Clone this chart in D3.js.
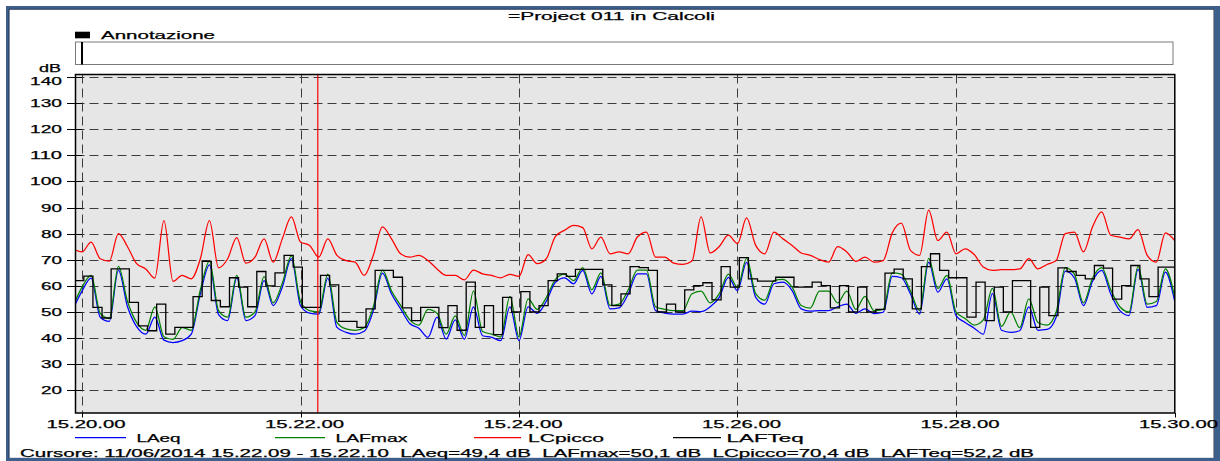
<!DOCTYPE html>
<html><head><meta charset="utf-8">
<script src="https://cdn.jsdelivr.net/npm/d3@7"></script>
<style>
body{margin:0;background:#fff}
svg{display:block}
text{font-family:"Liberation Sans",Arial,sans-serif;font-size:11px;fill:#000;stroke:#000;stroke-width:0.25px;white-space:pre}
</style>
</head><body>
<svg id="c" width="1220" height="461"></svg>
<script>
// ---------- DATA ----------
const title = "=Project 011 in Calcoli";
const annotationLabel = "Annotazione";
const unitLabel = "dB";
const seriesNames = ["LAeq", "LAFmax", "LCpicco", "LAFTeq"];
const seriesColors = ["#0000ff", "#008000", "#ff0000", "#000000"];
const cursorText = "Cursore: 11/06/2014 15.22.09 - 15.22.10  LAeq=49,4 dB  LAFmax=50,1 dB  LCpicco=70,4 dB  LAFTeq=52,2 dB";
const cursorSeconds = 129.5;               // seconds after 15.20.00
const yTicks = [20, 30, 40, 50, 60, 70, 80, 90, 100, 110, 120, 130, 140];
const xTickSeconds = [0, 120, 240, 360, 480, 600];
const xTickLabels = ["15.20.00", "15.22.00", "15.24.00", "15.26.00", "15.28.00", "15.30.00"];

// 1-second series sampled every 5 s, first sample at -5 s (15.19.55)
const sampleStart = -5, sampleStep = 5;
const laeq = [
  51, 58, 63, 48, 46.4, 66, 52, 44.4, 41.5, 48,
  39.2, 38.3, 39, 41.5, 56.9, 68, 49, 46.7, 63.1, 46.7,
  48.6, 62, 52.4, 59.5, 70.4, 52.4, 49.6, 49.2, 63, 44.1,
  42.2, 41.5, 42.6, 50.5, 64.9, 56.9, 51.2, 45.6, 43.8, 40.3,
  48, 39.6, 47, 39.6, 52, 40.9, 40.3, 39, 52, 39,
  52, 49.5, 54.1, 61.4, 63.1, 60.8, 65.9, 56.9, 63.6, 51.2,
  51.6, 56.9, 64.6, 64.6, 50.5, 49.6, 49.2, 49.2, 50.3, 50.1,
  52, 55.6, 63.3, 58.2, 69, 55.6, 53, 60.8, 61.4, 58.2,
  51.2, 50.3, 50.5, 50.5, 52, 53, 49.5, 51.2, 49.4, 49.9,
  63.6, 63.1, 56.9, 49.2, 69.1, 57.6, 62.7, 48.6, 46, 43.8,
  41.5, 57, 43, 42.2, 42.8, 52, 43, 43.3, 48, 65.6,
  63.1, 52.4, 61.8, 65.9, 56.9, 50.5, 48.6, 66.3, 51.8, 52.4,
  65.3, 54.4
];
const lafmax = [
  52, 59.5, 64, 49.5, 47.5, 67.5, 54, 46, 43, 52,
  40.5, 39.5, 44, 43, 58.5, 69.5, 50.5, 48, 64, 48,
  50, 63.5, 53.5, 61, 71.5, 54, 50.5, 50, 64.5, 46,
  43.5, 43, 44, 52, 66, 58, 52.5, 47, 45, 51,
  49.5, 41.5, 48.5, 41, 58, 42.5, 41.5, 40.5, 56, 40.5,
  55, 51, 55.5, 62.5, 64.5, 62, 67, 58.5, 65, 52.5,
  53, 58.5, 66, 66, 52, 51, 50.5, 50.5, 57, 58,
  53.5, 57, 64.5, 59.5, 70.5, 57, 54.5, 62, 62.5, 59.5,
  52.5, 51.5, 58, 58, 53.5, 58, 51, 56, 50.5, 51,
  65, 64.5, 58, 50.5, 70.5, 59, 64, 50, 47.5, 45,
  47, 59, 44.5, 50, 44, 55, 46, 45, 50, 67,
  64.5, 53.5, 63, 67, 58.5, 52, 50, 67.5, 53, 54,
  66.5, 56
];
const lcpicco = [
  74.2, 73, 76.8, 70.4, 69.5, 80, 75, 68.5, 66.5, 63,
  85, 61.7, 64, 62.7, 70.4, 85, 66.9, 70.4, 78.5, 68.7,
  71, 78, 69.1, 78, 86.4, 76.8, 75.5, 71, 78, 71.7,
  69.7, 69.1, 64, 71.7, 82.6, 78, 72.3, 71, 71.7, 69.7,
  66.5, 64, 64, 62.3, 66, 64.6, 64, 63.1, 64.4, 63.6,
  72, 68.5, 70.4, 79, 81.3, 83.2, 82.3, 74.2, 78.7, 72.3,
  73, 72.3, 78.7, 80.6, 71, 71, 68.7, 68.2, 69.5, 86.4,
  72.6, 75.1, 79.4, 76.2, 86, 75.5, 72.3, 80.6, 78, 75.5,
  72.6, 71.7, 70.1, 69.1, 75, 73, 69.4, 71, 69.1, 69.7,
  80.3, 84, 73.6, 71.7, 89, 77.4, 80.6, 72.3, 74.2, 72,
  67.2, 65.9, 66.2, 66.2, 66.5, 70.4, 66.5, 68.2, 69.7, 80,
  80.6, 73, 82.6, 88.3, 79.4, 78.7, 78, 81.5, 71.7, 69.1,
  80.3, 77.4
];
// Takt-max: one value per 5-s period, first period starts at -4 s
const taktStart = -4, taktStep = 5;
const lafteq = [
  62, 63.7, 51.8, 47.7, 66.5, 66.5, 53.7, 44.7, 42.8, 53,
  41.5, 44.1, 44.1, 55.9, 69.4, 54.4, 52, 63.1, 59.5, 52,
  65.5, 60, 65, 71.7, 67.2, 51.8, 51.8, 64, 60.4, 46.4,
  46.4, 44.1, 51.2, 65.9, 65.9, 63.3, 51.6, 46.7, 51.8, 51.8,
  44, 52.4, 43, 61.4, 44.1, 52.4, 41.3, 55.6, 50, 57.8,
  50, 52.4, 62, 64.6, 63.6, 66.3, 66.3, 66.3, 60.4, 52.4,
  56.9, 67.4, 67, 65.9, 50, 53, 50, 58.5, 60.1, 61.2,
  54.6, 67.4, 59.5, 70.8, 62.7, 61.8, 61.8, 63.3, 63.3, 59.5,
  59.5, 61.4, 60.1, 51.6, 60.1, 50, 59.5, 50, 51, 64.9,
  66.4, 62.7, 51.2, 67.4, 72.3, 65.9, 63.1, 63.1, 48, 61.4,
  46.7, 59.5, 50, 62, 62, 44.1, 59.5, 48.6, 66.9, 65.5,
  64, 62.7, 67.8, 66.8, 54.9, 60.1, 67.8, 62.7, 55.9, 67.2,
  67.2
];

// ---------- LAYOUT ----------
const W = 1220, H = 461;
const plot = {left: 75.5, right: 1174.8, top: 74.5, bottom: 413};
const x = d3.scaleLinear().domain([0, 600]).range([82, 1174.5]);
const y = d3.scaleLinear().domain([20, 140]).range([390.3, 77]);

const svg = d3.select("#c");

// window frame
svg.append("rect").attr("x", 6).attr("y", 6).attr("width", W - 6).attr("height", H - 6).attr("fill", "#3e5f8c");
svg.append("rect").attr("x", 9.3).attr("y", 9.3).attr("width", 1204).attr("height", 448.5).attr("fill", "#fff");
svg.append("line").attr("x1", 1213.5).attr("x2", 1213.5).attr("y1", 9).attr("y2", 458).attr("stroke", "#9a9a9a").attr("stroke-width", 1);
svg.append("line").attr("x1", 9).attr("x2", 9).attr("y1", 9).attr("y2", 458).attr("stroke", "#1e2e48").attr("stroke-width", 0.8);
svg.append("line").attr("x1", 9).attr("x2", 1214).attr("y1", 9.3).attr("y2", 9.3).attr("stroke", "#1e2e48").attr("stroke-width", 0.8);

function stretchedText(g, str, xStart, baseline, width) {
  return g.append("text").attr("x", xStart).attr("y", baseline)
    .attr("textLength", width).attr("lengthAdjust", "spacingAndGlyphs").text(str);
}

// title
stretchedText(svg, title, 508, 20, 207);

// annotation legend + box
svg.append("rect").attr("x", 75).attr("y", 31.7).attr("width", 15).attr("height", 6.6).attr("fill", "#000");
stretchedText(svg, annotationLabel, 101, 38.8, 114);
svg.append("rect").attr("x", 75.5).attr("y", 42).attr("width", 1097.5).attr("height", 22.5)
  .attr("fill", "#fff").attr("stroke", "#7a7a7a").attr("stroke-width", 1);
svg.append("line").attr("x1", 82).attr("x2", 82).attr("y1", 42).attr("y2", 64.5)
  .attr("stroke", "#000").attr("stroke-width", 2);

// plot background
svg.append("rect").attr("x", plot.left).attr("y", plot.top)
  .attr("width", plot.right - plot.left).attr("height", plot.bottom - plot.top)
  .attr("fill", "#e6e6e6");

// grid
const grid = svg.append("g").attr("stroke", "#3c3c3c").attr("stroke-width", 1).attr("stroke-dasharray", "9,5");
grid.selectAll("line.h").data(yTicks).join("line").attr("class", "h")
  .attr("x1", plot.left).attr("x2", plot.right)
  .attr("y1", d => Math.round(y(d)) + 0.5).attr("y2", d => Math.round(y(d)) + 0.5);
grid.selectAll("line.v").data(xTickSeconds.slice(0, -1)).join("line").attr("class", "v")
  .attr("x1", d => Math.round(x(d)) + 0.5).attr("x2", d => Math.round(x(d)) + 0.5)
  .attr("y1", plot.top).attr("y2", plot.bottom);

// y ticks + labels
const yAxis = svg.append("g");
yAxis.selectAll("line").data(yTicks).join("line")
  .attr("x1", 67).attr("x2", 82)
  .attr("y1", d => Math.round(y(d)) + 0.5).attr("y2", d => Math.round(y(d)) + 0.5)
  .attr("stroke", "#000").attr("stroke-width", 1);
yTicks.forEach(v => {
  const w = String(v).length === 3 ? 32 : 21;
  const base = v === 140 ? y(v) + 7.5 : y(v) + 4;
  stretchedText(yAxis, String(v), 62 - w, base, w);
});
stretchedText(svg, unitLabel, 39, 72.3, 22);

// x ticks + labels
const xAxis = svg.append("g");
xAxis.selectAll("line").data(xTickSeconds).join("line")
  .attr("x1", d => Math.round(x(d)) + 0.5).attr("x2", d => Math.round(x(d)) + 0.5)
  .attr("y1", plot.bottom).attr("y2", plot.bottom + 4.5)
  .attr("stroke", "#000").attr("stroke-width", 1);
xTickSeconds.forEach((s, i) => {
  stretchedText(xAxis, xTickLabels[i], x(s) + 4 - 39.5, 428, 79);
});

// clip for series
svg.append("clipPath").attr("id", "clip").append("rect")
  .attr("x", plot.left).attr("y", plot.top)
  .attr("width", plot.right - plot.left).attr("height", plot.bottom - plot.top);
const series = svg.append("g").attr("clip-path", "url(#clip)");

const lineGen = d3.line().x(d => x(d.t)).y(d => y(d.v)).curve(d3.curveMonotoneX);
const toPts = arr => arr.map((v, i) => ({t: sampleStart + i * sampleStep, v}));
[[laeq, 0], [lafmax, 1], [lcpicco, 2]].forEach(([arr, k]) => {
  series.append("path").attr("d", lineGen(toPts(arr)))
    .attr("fill", "none").attr("stroke", seriesColors[k]).attr("stroke-width", 1.25)
    .attr("stroke-linejoin", "round");
});
const taktPts = lafteq.map((v, i) => ({t: taktStart + i * taktStep, v}));
taktPts.push({t: 600, v: lafteq[lafteq.length - 1]});
const stepGen = d3.line().x(d => x(d.t)).y(d => y(d.v)).curve(d3.curveStepAfter);
series.append("path").attr("d", stepGen(taktPts))
  .attr("fill", "none").attr("stroke", seriesColors[3]).attr("stroke-width", 1.3);

// cursor
series.append("line").attr("x1", x(cursorSeconds)).attr("x2", x(cursorSeconds))
  .attr("y1", plot.top).attr("y2", plot.bottom).attr("stroke", "#ff0000").attr("stroke-width", 1.2);

// plot border
svg.append("rect").attr("x", plot.left).attr("y", plot.top)
  .attr("width", plot.right - plot.left).attr("height", plot.bottom - plot.top)
  .attr("fill", "none").attr("stroke", "#000").attr("stroke-width", 1.5);

// legend
const legendLine = [[75, 126], [275, 325], [474, 521], [673, 721]];
const legendText = [[136.5, 44], [335.4, 72], [528, 76], [726.6, 77]];
const legend = svg.append("g");
seriesNames.forEach((n, i) => {
  legend.append("line").attr("x1", legendLine[i][0]).attr("x2", legendLine[i][1])
    .attr("y1", 437.7).attr("y2", 437.7).attr("stroke", seriesColors[i]).attr("stroke-width", 1.2);
  stretchedText(legend, n, legendText[i][0], 441.8, legendText[i][1]);
});

// cursor readout
stretchedText(svg, cursorText, 20, 456.5, 1014);
</script>
</body></html>
